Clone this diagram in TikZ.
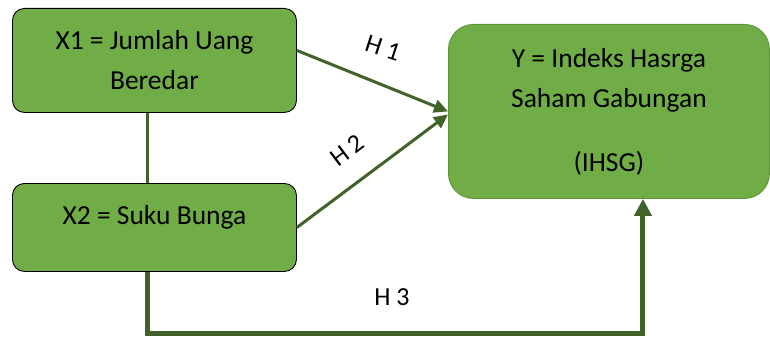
\documentclass[tikz,border=0pt]{standalone}
\usepackage{fontspec}
\setmainfont{Carlito}
\usetikzlibrary{arrows.meta}
\definecolor{boxgreen}{HTML}{70AD47}
\definecolor{rimgreen}{HTML}{5E9438}
\definecolor{linegreen}{HTML}{41632A}
\begin{document}
\begin{tikzpicture}[x=1pt,y=-1pt,
        varbox/.style={draw=black,line width=0.9pt,fill=boxgreen,rounded corners=12pt,
            minimum width=284pt,anchor=north west,align=center,
            font=\fontsize{27.5}{40}\selectfont},
        hyp/.style={font=\fontsize{26}{30}\selectfont}]
        \useasboundingbox (0,0) rectangle (770,337);
        %% variables
        \node[varbox,minimum height=104pt] (x1) at (12,8) {X1 = Jumlah Uang\\Beredar};
        \node[varbox,minimum height=88pt,text height=20pt,text depth=26pt] (x2) at (12,183) {X2 = Suku Bunga};
        \node[varbox,draw=rimgreen,rounded corners=25pt,minimum width=321pt,minimum height=174pt]
            (y) at (448,24) {Y = Indeks Hasrga\\Saham Gabungan\\[24pt](IHSG)};
        %% link X1 -- X2
        \draw[linegreen,line width=3pt] ([xshift=-7pt]x1.south) -- ([xshift=-7pt]x2.north);
        %% H1, H2
        \draw[linegreen,line width=3pt,-{Triangle[width=13pt,length=14pt]}] ([yshift=10pt]x1.east) -- (y.west);
        \draw[linegreen,line width=3pt,-{Triangle[width=13pt,length=14pt]}] (x2.east) -- ([yshift=-3pt]y.west);
        \node[hyp,rotate=-18] (h1) at (383,48) {H 1};
        \node[hyp,rotate=37] (h2) at (347,150) {H 2};
        %% H3
        \coordinate (h3low) at (400,333);
        \draw[linegreen,line width=5pt,-{Triangle[width=17pt,length=17pt]}]
            ([xshift=-7pt]x2.south) |- (h3low) -| ([xshift=34pt]y.south);
        \node[hyp] (h3) at (392,297) {H 3};
\end{tikzpicture}
\end{document}
